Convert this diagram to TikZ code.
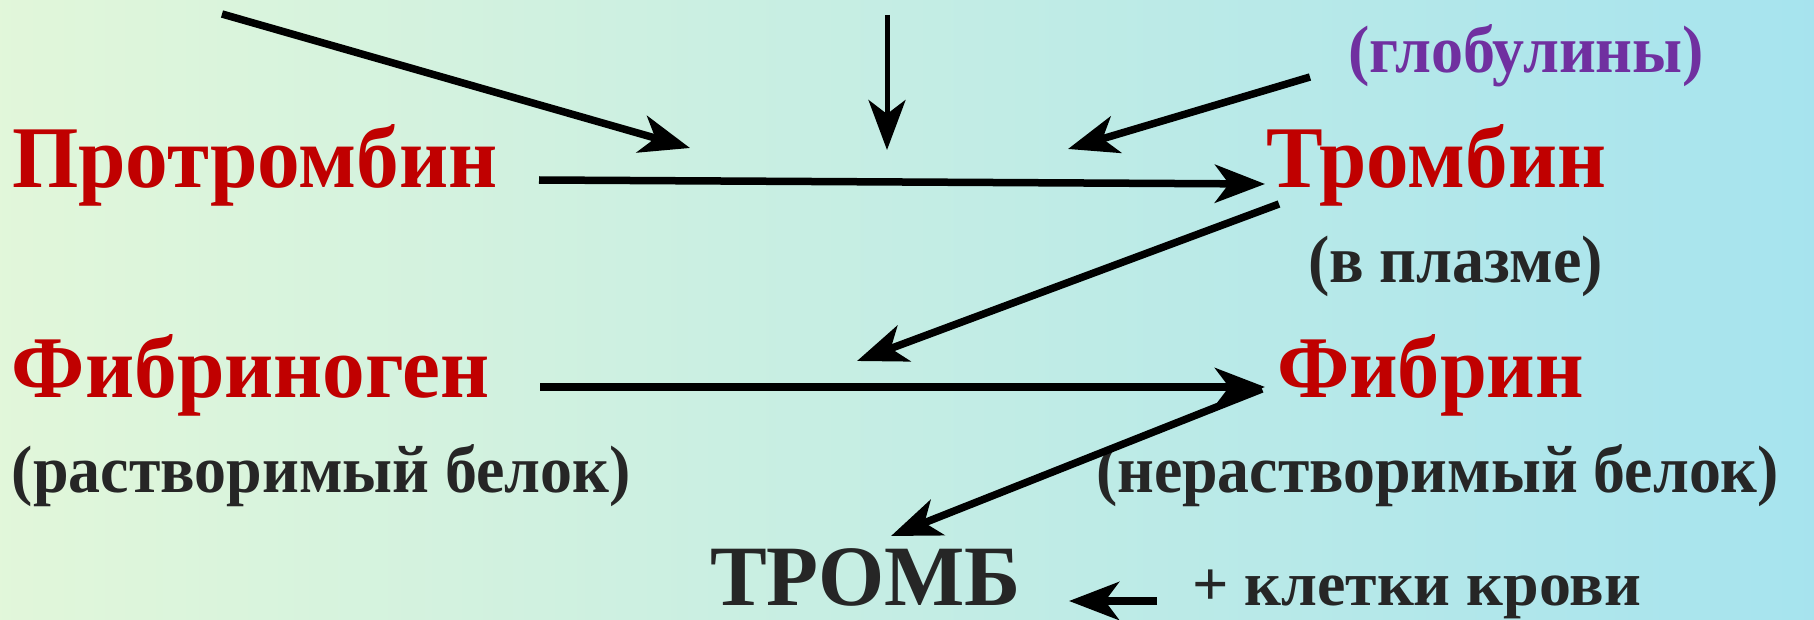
\documentclass[tikz,border=0pt]{standalone}
\usepackage{fontspec}
\setmainfont{Liberation Serif}
\usepackage{graphicx}
\usetikzlibrary{arrows.meta}

\definecolor{bgA}{RGB}{236,250,214}
\definecolor{bgB}{RGB}{156,224,242}
\definecolor{redtxt}{RGB}{192,0,0}
\definecolor{violettxt}{RGB}{112,48,160}
\definecolor{darktxt}{RGB}{38,38,38}

% text set to a given width, keeping its natural height
\newcommand{\fitw}[2]{\resizebox{#1}{\height}{#2}}

\tikzset{
  lbl/.style={anchor=base west, inner sep=0pt, outer sep=0pt, font=\bfseries},
  substance/.style={lbl, text=redtxt, font=\bfseries\fontsize{88}{92}\selectfont},
  note/.style={lbl, text=darktxt, font=\bfseries\fontsize{67}{70}\selectfont},
  flow/.style={line width=7.5pt, -{Stealth[length=50pt, width=38pt, inset=14pt]}},
  thinflow/.style={line width=5pt, -{Stealth[length=50pt, width=37pt, inset=14pt]}}
}

\begin{document}
\begin{tikzpicture}[x=1pt, y=-1pt]
\useasboundingbox (0,0) rectangle (1814,620);

% background gradient
\begin{scope}
  \clip (0,0) rectangle (1814,620);
  \shade[left color=bgA, right color=bgB, rotate around={-18:(907,310)}]
    (-120,-500) rectangle (1934,1120);
\end{scope}

% substances
\node[substance] (protr) at (12,188) {\fitw{486pt}{Протромбин}};
\node[substance] (thromb) at (1266,188) {\fitw{340pt}{Тромбин}};
\node[substance] (fibrg) at (12,397) {\fitw{478pt}{Фибриноген}};
\node[substance] (fibr) at (1277,397) {\fitw{307pt}{Фибрин}};

% notes
\node[lbl, text=violettxt, font=\bfseries\fontsize{67}{70}\selectfont] (glob) at (1348,73) {\fitw{356pt}{(глобулины)}};
\node[note] (plasma) at (1308,283) {\fitw{295pt}{(в плазме)}};
\node[note] (sol) at (12,492) {\fitw{619pt}{(растворимый белок)}};
\node[note] (insol) at (1096,492) {\fitw{683pt}{(нерастворимый белок)}};
\node[lbl, text=darktxt, font=\bfseries\fontsize{86}{90}\selectfont] (clot) at (710,605) {\fitw{311pt}{ТРОМБ}};
\node[note, font=\bfseries\fontsize{63}{66}\selectfont] (cells) at (1192,605) {\fitw{449pt}{+ клетки крови}};

% arrow end points
\coordinate (a1s) at (222,14);   \coordinate (a1e) at (690,148);
\coordinate (a2s) at (887,15);   \coordinate (a2e) at (887,150);
\coordinate (a3s) at (1310,77);  \coordinate (a3e) at (1068,149);
\coordinate (m1s) at (539,180);  \coordinate (m1e) at (1265,184);
\coordinate (a4s) at (1279,204); \coordinate (a4e) at (857,361);
\coordinate (m2s) at (540,387);  \coordinate (m2e) at (1265,387);
\coordinate (a6s) at (1262,389); \coordinate (a6e) at (891,536);
\coordinate (a7s) at (1157,601); \coordinate (a7e) at (1069,601);

% arrows
\draw[flow] (a1s) -- (a1e);
\draw[thinflow] (a2s) -- (a2e);
\draw[flow] (a3s) -- (a3e);
\draw[flow] (m1s) -- (m1e);
\draw[flow] (a4s) -- (a4e);
\draw[flow] (m2s) -- (m2e);
\draw[flow] (a6s) -- (a6e);
\draw[flow] (a7s) -- (a7e);
\end{tikzpicture}
\end{document}
